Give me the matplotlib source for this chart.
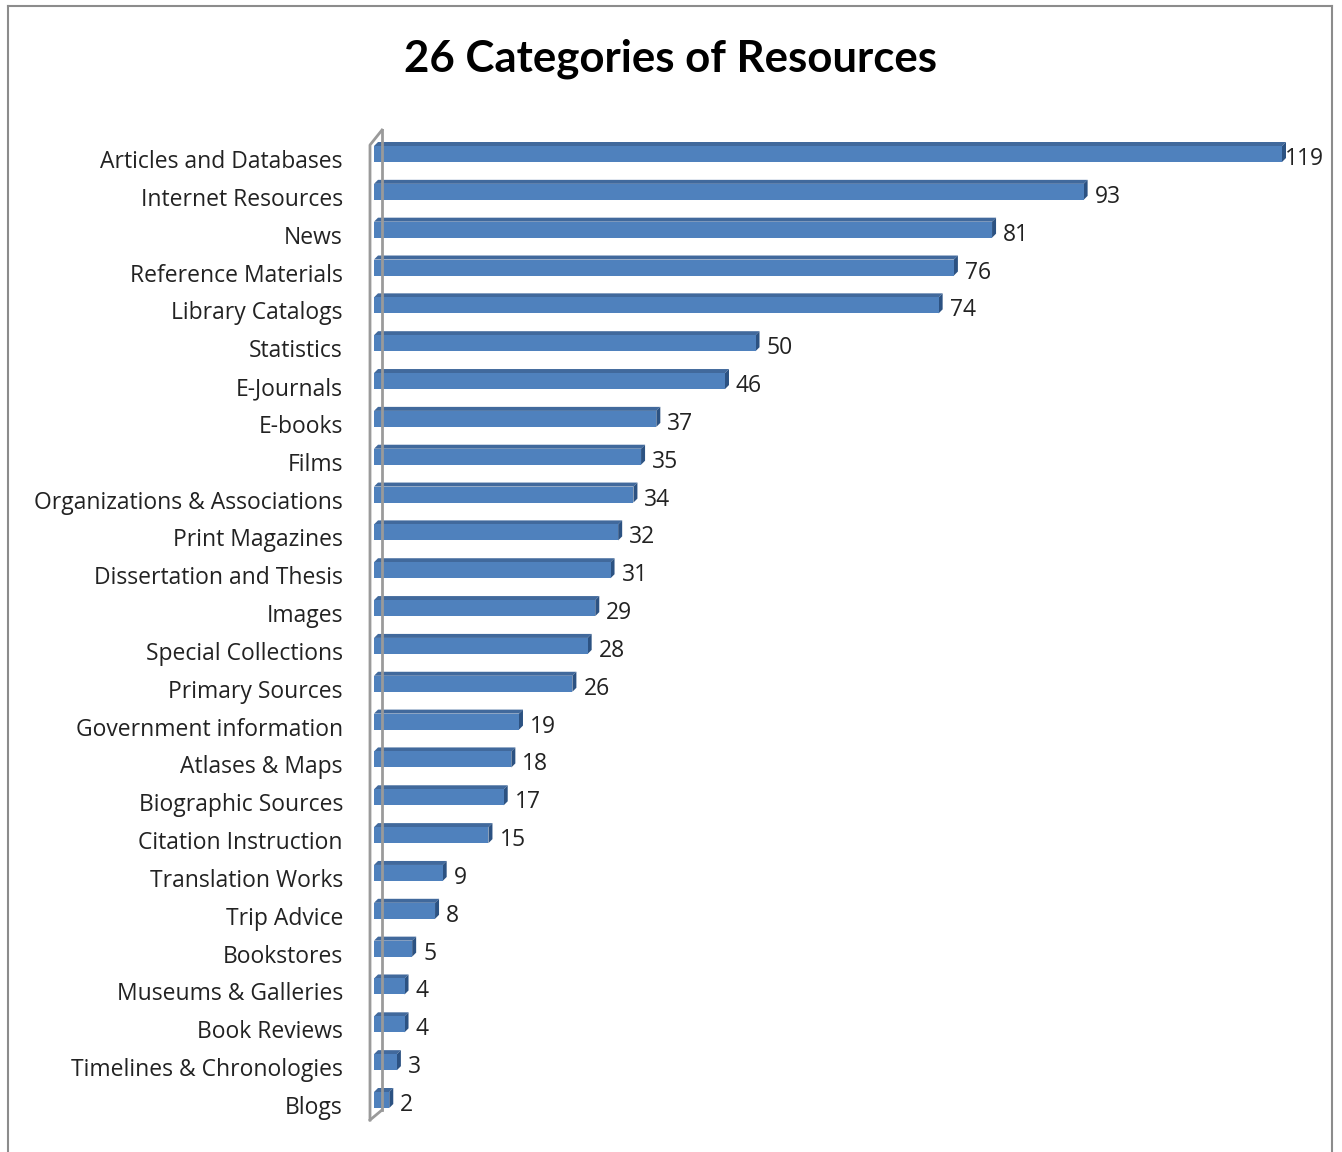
import matplotlib
matplotlib.use("Agg")
import matplotlib.pyplot as plt
from matplotlib.patches import Polygon
from matplotlib.lines import Line2D

categories = ["Articles and Databases", "Internet Resources", "News", "Reference Materials",
              "Library Catalogs", "Statistics", "E-Journals", "E-books", "Films",
              "Organizations & Associations", "Print Magazines", "Dissertation and Thesis",
              "Images", "Special Collections", "Primary Sources", "Government information",
              "Atlases & Maps", "Biographic Sources", "Citation Instruction", "Translation Works",
              "Trip Advice", "Bookstores", "Museums & Galleries", "Book Reviews",
              "Timelines & Chronologies", "Blogs"]
values = [119, 93, 81, 76, 74, 50, 46, 37, 35, 34, 32, 31, 29, 28, 26, 19, 18, 17, 15, 9, 8, 5, 4, 4, 3, 2]
title = "26 Categories of Resources"

W, H = 1342, 1152
fig = plt.figure(figsize=(W / 100, H / 100), dpi=100)
fig.patch.set_facecolor("white")

# outer chart border
for (x0, y0, x1, y1) in [(8, 6, 1332, 6), (8, 6, 8, 1152), (1332, 6, 1332, 1152)]:
    fig.add_artist(Line2D([x0 / W, x1 / W], [1 - y0 / H, 1 - y1 / H], color="#8c8c8c", lw=1.5))

px_left, px_right = 374, 1282
px_top, px_bot = 130, 1120
ax = fig.add_axes([px_left / W, 1 - px_bot / H, (px_right - px_left) / W, (px_bot - px_top) / H])
xmax = values[0]
ax.set_xlim(0, xmax)
pxx = (px_right - px_left) / xmax  # px per unit
first_c, spacing = 154, (1100 - 154) / 25
ax.set_ylim((px_bot - first_c) / spacing, (px_top - first_c) / spacing)
ax.axis("off")

def dx(p): return p / pxx
def dy(p): return p / spacing

# wall
wall_c = "#9a9a9a"
xf, xb = dx(-4), dx(8)
ytop_b, ytop_f = dy(130 - first_c), dy(145 - first_c)
ybot_b, ybot_f = dy(1110 - first_c), dy(1120 - first_c)
ax.plot([xb, xb], [ytop_b, ybot_b], color=wall_c, lw=2, clip_on=False)
ax.plot([xf, xf, xb], [ybot_f, ytop_f, ytop_b], color=wall_c, lw=2, clip_on=False)
ax.plot([xf, xb], [ybot_f, ybot_b], color=wall_c, lw=2, clip_on=False)

bh = dy(16)
ddx, ddy = dx(4), dy(4)
front_c, top_c, side_c = "#4F81BD", "#41699c", "#2c5282"
font = "Open Sans"
for i, v in enumerate(values):
    y0, y1 = i - bh / 2, i + bh / 2
    ax.add_patch(Polygon([(0, y0), (ddx, y0 - ddy), (v + ddx, y0 - ddy), (v, y0)],
                         closed=True, facecolor=top_c, edgecolor="none", clip_on=False))
    ax.add_patch(Polygon([(v, y0), (v + ddx, y0 - ddy), (v + ddx, y1 - ddy), (v, y1)],
                         closed=True, facecolor=side_c, edgecolor="none", clip_on=False))
    ax.barh(i, v, height=bh, color=front_c, edgecolor="none", clip_on=False)
    off = 3 if i == 0 else 11
    ax.text(v + dx(off), i + dy(5), str(v), ha="left", va="center", fontsize=16.5,
            family=font, color="#222222", clip_on=False)
    ax.text(dx(343 - px_left), i + dy(8), categories[i], ha="right", va="center", fontsize=16.5,
            family=font, color="#222222", clip_on=False)

fig.text(671 / W, 1 - 59 / H, title, ha="center", va="center", fontsize=31.5,
         family="Lato", weight="bold", color="black")

fig.savefig("out.png", dpi=100, facecolor="white")
